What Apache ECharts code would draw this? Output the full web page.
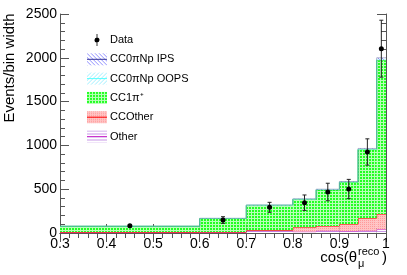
<!DOCTYPE html>
<html><head><meta charset="utf-8">
<script src="https://cdn.jsdelivr.net/npm/echarts@6/dist/echarts.min.js"></script>
<style>html,body{margin:0;padding:0;background:#fff}#c{width:407px;height:275px}</style>
</head><body><div id="c"></div>
<script>
// ---- data ----
const binEdges = [0.3, 0.6, 0.7, 0.8, 0.85, 0.9, 0.94, 0.98, 1.0];
const otherVals   = [5, 8, 25, 15, 26, 22, 26, 42];
const ccOtherVals = [5, 3, 5, 50, 54, 80, 142, 175];
const cc1piVals   = [66, 154, 285, 318, 412, 477, 784, 1755];
const oopsVals    = [1, 1, 2, 3, 3, 4, 5, 8];
const ipsVals     = [1, 2, 3, 4, 5, 5, 8, 20];
const dataX   = [0.45, 0.65, 0.75, 0.825, 0.875, 0.92, 0.96, 0.99];
const dataY   = [83, 148, 293, 346, 468, 502, 925, 2104];
const dataErr = [10, 38, 57, 88, 100, 110, 150, 325];
const xTickLabels = ['0.3','0.4','0.5','0.6','0.7','0.8','0.9','1'];

const FONT = 'Liberation Sans';

function pat(w, h, draw) {
  const c = document.createElement('canvas'); c.width = w; c.height = h;
  const g = c.getContext('2d'); draw(g); return { image: c, repeat: 'repeat' };
}
const greenPat = pat(3, 3, g => { g.fillStyle = '#22ff22'; g.fillRect(0,0,3,3); g.fillStyle = '#b8ffb8'; g.fillRect(2,0,1,3); g.fillRect(0,2,3,1); });
const pinkPat = pat(2, 2, g => { g.fillStyle = '#ffc4c4'; g.fillRect(0,0,2,2); g.fillStyle = '#ff9a9a'; g.fillRect(0,0,1,1); });
const otherPat = pat(3, 3, g => { g.fillStyle = '#ffffff'; g.fillRect(0,0,3,3); g.fillStyle = '#c898e8'; g.fillRect(0,0,3,1); });
const ipsPat = pat(4, 4, g => { g.fillStyle = '#ffffff'; g.fillRect(0,0,4,4); g.fillStyle = '#9090ff'; for (let i=0;i<4;i++) g.fillRect(i,i,1,1); });
const oopsPat = pat(4, 4, g => { g.fillStyle = '#ffffff'; g.fillRect(0,0,4,4); g.fillStyle = '#a0f0ff'; for (let i=0;i<4;i++) g.fillRect(3-i,i,1,1); });

const layers = [
  { name: 'Other', vals: otherVals, fill: otherPat, line: '#cc33cc', op: 1 },
  { name: 'CCOther', vals: ccOtherVals, fill: pinkPat, line: '#ff0000', op: 1 },
  { name: 'CC1π⁺', vals: cc1piVals, fill: greenPat, line: '#00e000', op: 1 },
  { name: 'CC0πNp OOPS', vals: oopsVals, fill: oopsPat, line: '#55ffff', op: 0.6 },
  { name: 'CC0πNp IPS', vals: ipsVals, fill: ipsPat, line: '#7777aa', op: 0.55 }
];

function baseAt(li, i) { let s = 0; for (let k = 0; k < li; k++) s += layers[k].vals[i]; return s; }

const series = layers.map((L, li) => ({
  name: L.name,
  type: 'custom',
  coordinateSystem: 'cartesian2d',
  xAxisIndex: 0, yAxisIndex: 0,
  itemStyle: { color: L.fill },
  encode: { x: [0, 1], y: 2 },
  data: L.vals.map((v, i) => [binEdges[i], binEdges[i + 1], v]),
  renderItem: function (params, api) {
    const i = params.dataIndex;
    const base = baseAt(li, i);
    const top = base + L.vals[i];
    const p0 = api.coord([binEdges[i], base]);
    const p1 = api.coord([binEdges[i + 1], top]);
    const children = [{
      type: 'rect',
      shape: { x: p0[0], y: p1[1], width: p1[0] - p0[0], height: p0[1] - p1[1] },
      style: { fill: L.fill }
    }];
    const pts = [];
    if (i > 0) {
      const prevTop = baseAt(li, i - 1) + L.vals[i - 1];
      pts.push(api.coord([binEdges[i], prevTop]));
    }
    pts.push([p0[0], p1[1]]);
    pts.push([p1[0], p1[1]]);
    children.push({ type: 'polyline', shape: { points: pts }, style: { stroke: L.line, lineWidth: 1, fill: null, opacity: L.op } });
    return { type: 'group', children };
  },
  z: 2 + li
}));

series.push({
  name: 'Data',
  type: 'custom',
  coordinateSystem: 'cartesian2d',
  itemStyle: { color: '#000' },
  encode: { x: 0, y: 1 },
  data: dataX.map((x, i) => [x, dataY[i], dataErr[i]]),
  renderItem: function (params, api) {
    const x = api.value(0), y = api.value(1), e = api.value(2);
    const p = api.coord([x, y]);
    const hi = api.coord([x, y + e]), lo = api.coord([x, y - e]);
    const st = { stroke: '#222', lineWidth: 1 };
    return { type: 'group', children: [
      { type: 'line', shape: { x1: p[0], y1: hi[1], x2: p[0], y2: lo[1] }, style: st },
      { type: 'line', shape: { x1: p[0] - 2, y1: hi[1], x2: p[0] + 2, y2: hi[1] }, style: st },
      { type: 'line', shape: { x1: p[0] - 2, y1: lo[1], x2: p[0] + 2, y2: lo[1] }, style: st },
      { type: 'circle', shape: { cx: p[0], cy: p[1], r: 2.5 }, style: { fill: '#000' } }
    ]};
  },
  z: 20
});

const axisLineStyle = { color: '#555', width: 1 };
const chart = echarts.init(document.getElementById('c'), null, { renderer: 'canvas' });

const legendTop = 34, legendGap = 7.3, legendH = 12;
const legendOrder = ['Data', 'CC0πNp IPS', 'CC0πNp OOPS', 'CC1π⁺', 'CCOther', 'Other'];
const legendLineColors = [null, '#333399', '#55ffff', null, '#ff0000', '#cc33cc'];
const legendLines = legendLineColors.map((c, i) => c ? {
  type: 'line', silent: true, z: 100,
  shape: { x1: 87, y1: legendTop + legendH / 2 + i * (legendH + legendGap), x2: 107, y2: legendTop + legendH / 2 + i * (legendH + legendGap) },
  style: { stroke: c, lineWidth: 1 }
} : null).filter(Boolean);

chart.setOption({
  animation: false,
  backgroundColor: '#fff',
  grid: { left: 60, right: 21, top: 14, bottom: 42 },
  xAxis: [{
    type: 'value', min: 0.3, max: 1.0, interval: 0.1, position: 'bottom',
    axisLine: { show: true, lineStyle: axisLineStyle },
    axisTick: { show: true, inside: true, length: 9, lineStyle: axisLineStyle },
    minorTick: { show: true, splitNumber: 5, length: 5, lineStyle: axisLineStyle },
    splitLine: { show: false },
    axisLabel: { fontFamily: FONT, fontSize: 14, color: '#000', margin: 4,
      formatter: v => xTickLabels[Math.round((v - 0.3) * 10)] },
  }, {
    type: 'value', min: 0.3, max: 1.0, interval: 0.1, position: 'top',
    axisLine: { show: true, lineStyle: axisLineStyle },
    axisTick: { show: true, inside: true, length: 9, lineStyle: axisLineStyle },
    minorTick: { show: true, splitNumber: 5, length: 5, lineStyle: axisLineStyle },
    splitLine: { show: false }, axisLabel: { show: false }
  }],
  yAxis: [{
    type: 'value', min: 0, max: 2500, interval: 500, position: 'left',
    axisLine: { show: true, lineStyle: axisLineStyle },
    axisTick: { show: true, inside: true, length: 9, lineStyle: axisLineStyle },
    minorTick: { show: true, splitNumber: 5, length: 5, lineStyle: axisLineStyle },
    splitLine: { show: false },
    axisLabel: { fontFamily: FONT, fontSize: 14, color: '#000', margin: 3, formatter: v => String(v) }
  }, {
    type: 'value', min: 0, max: 2500, interval: 500, position: 'right',
    axisLine: { show: true, lineStyle: axisLineStyle },
    axisTick: { show: true, inside: true, length: 9, lineStyle: axisLineStyle },
    minorTick: { show: true, splitNumber: 5, length: 5, lineStyle: axisLineStyle },
    splitLine: { show: false }, axisLabel: { show: false }
  }],
  legend: {
    orient: 'vertical', left: 87, top: legendTop, padding: 0,
    itemWidth: 20, itemHeight: legendH, itemGap: legendGap,
    selectedMode: false,
    data: legendOrder.map(n => n === 'Data'
      ? { name: n, icon: 'path://M9.6,0 L10.4,0 L10.4,12 L9.6,12 Z M10,3.5 A2.5,2.5 0 1 1 9.99,3.5 Z' }
      : { name: n, icon: 'rect' }),
    textStyle: { fontFamily: FONT, fontSize: 11, color: '#000', lineHeight: 12, padding: [0, 0, 0, -2] }
  },
  graphic: [
    { type: 'text', x: 10, y: 68, rotation: Math.PI / 2,
      style: { text: 'Events/bin width', font: '15px "Liberation Sans"', fill: '#000', textAlign: 'center', textVerticalAlign: 'middle' } },
    { type: 'text', x: 357, y: 258, style: { text: 'cos(θ', font: '15px "Liberation Sans"', fill: '#000', textAlign: 'right', textVerticalAlign: 'middle' } },
    { type: 'text', x: 358, y: 264, style: { text: 'μ', font: '11px "Liberation Sans"', fill: '#000', textAlign: 'left', textVerticalAlign: 'middle' } },
    { type: 'text', x: 358, y: 252, style: { text: 'reco', font: '11px "Liberation Sans"', fill: '#000', textAlign: 'left', textVerticalAlign: 'middle' } },
    { type: 'text', x: 387, y: 258, style: { text: ')', font: '15px "Liberation Sans"', fill: '#000', textAlign: 'right', textVerticalAlign: 'middle' } }
  ].concat(legendLines),
  series: series
});
</script>
</body></html>
